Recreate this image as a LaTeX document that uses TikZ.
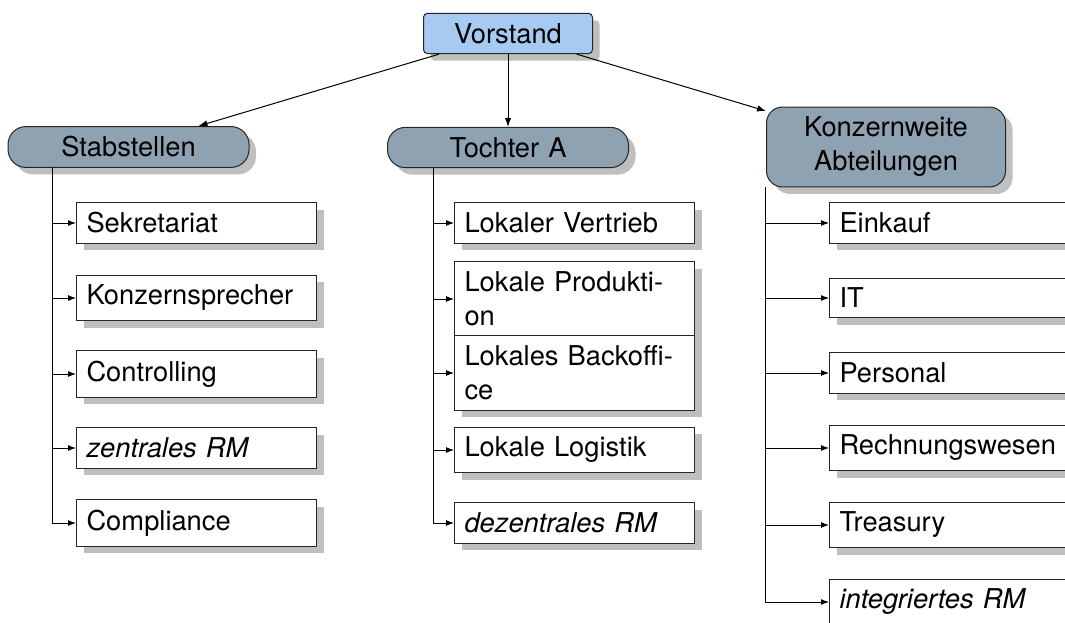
\documentclass[tikz,border=0pt]{standalone}
\usepackage{fontspec}
\setmainfont{TeX Gyre Heros}
\usetikzlibrary{shadows,arrows.meta}

\definecolor{topblue}{RGB}{166,202,241}
\definecolor{slate}{RGB}{143,162,178}

\tikzset{
  basefont/.style={font=\fontsize{27.3}{34}\selectfont},
  shade7/.style={drop shadow={shadow xshift=7pt,shadow yshift=-7pt,fill=black!25,opacity=1}},
  topbox/.style={basefont,draw=black!85,line width=1pt,fill=topblue,rounded corners=4pt,
    minimum width=169pt,inner sep=10pt,shade7},
  unitbox/.style={basefont,draw=black!85,line width=1pt,fill=slate,rounded corners=18pt,
    text width=221pt,align=center,inner sep=10pt,shade7},
  leafbox/.style={basefont,draw=black!85,line width=1pt,fill=white,anchor=west,
    text width=220pt,align=left,inner sep=10pt,shade7},
  arr/.style={line width=1pt,-{Latex[length=9pt,width=6.5pt]}},
  branch/.style={line width=1pt,-{Latex[length=8pt,width=6pt]}},
}

\begin{document}
\begin{tikzpicture}[x=1pt,y=-1pt]
\useasboundingbox (0,0) rectangle (1065,623);
\clip (0,0) rectangle (1065,623);

% top of the hierarchy
\node[topbox] (vor) at (508,33.5) {Vorstand};

% second level
\node[unitbox] (stab) at (128.5,147) {Stabstellen};
\node[unitbox] (toch) at (508,147.5) {Tochter A};
\node[unitbox,rounded corners=16pt,text width=219pt] (konz) at (886,147) {Konzernweite\\Abteilungen};

% staff units
\node[leafbox] (sek)  at (76,223) {Sekretariat};
\node[leafbox] (spr)  at (76,298) {Konzernsprecher};
\node[leafbox] (ctr)  at (76,374) {Controlling};
\node[leafbox] (zrm)  at (76,448) {\itshape zentrales RM};
\node[leafbox] (cmp)  at (76,523) {Compliance};

% subsidiary
\node[leafbox] (ver)  at (454,223) {Lokaler Vertrieb};
\node[leafbox] (pro)  at (454,299) {Lokale Produkti-\\on};
\node[leafbox] (bko)  at (454,373) {Lokales Backoffi-\\ce};
\node[leafbox] (log)  at (454,450) {Lokale Logistik};
\node[leafbox] (drm)  at (454,523) {\itshape dezentrales RM};

% group-wide departments
\node[leafbox] (ein)  at (829,223) {Einkauf};
\node[leafbox] (it)   at (829,298) {IT};
\node[leafbox] (per)  at (829,373) {Personal};
\node[leafbox] (rew)  at (829,448) {Rechnungswesen};
\node[leafbox] (tre)  at (829,525) {Treasury};
\node[leafbox] (irm)  at (829,602) {\itshape integriertes RM};

% connectors from the board
\draw[arr] (vor) -- (stab);
\draw[arr] (vor) -- (toch);
\draw[arr] (vor) -- (konz);

% branches
\foreach \c in {sek,spr,ctr,zrm,cmp}
  \draw[branch] ([xshift=45pt]stab.south west) |- (\c.west);
\foreach \c in {ver,pro,bko,log,drm}
  \draw[branch] ([xshift=46pt]toch.south west) |- (\c.west);
\foreach \c in {ein,it,per,rew,tre,irm}
  \draw[branch] ([xshift=-1pt]konz.south west) |- (\c.west);
\end{tikzpicture}
\end{document}
